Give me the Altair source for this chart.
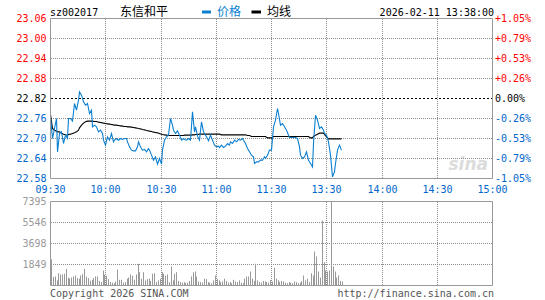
import altair as alt
import pandas as pd

stock_code = "sz002017"
stock_name = "东信和平"
timestamp = "2026-02-11 13:38:00"
legend_labels = ["价格", "均线"]
footer_left = "Copyright 2026 SINA.COM"
footer_right = "http://finance.sina.com.cn"
prev_close = 22.82
price_ticks = [22.58, 22.64, 22.70, 22.76, 22.82, 22.88, 22.94, 23.00, 23.06]
volume_ticks = [1849, 3698, 5546, 7395]
time_ticks = [0, 30, 60, 90, 120, 150, 180, 210, 240]
time_labels = ["09:30", "10:00", "10:30", "11:00", "11:30", "13:30", "14:00", "14:30", "15:00"]

prices = [
    22.765, 22.700, 22.730, 22.760, 22.660, 22.715, 22.720, 22.685, 22.710, 22.700,
    22.760, 22.760, 22.752, 22.805, 22.785, 22.815, 22.840, 22.830, 22.810, 22.800,
    22.805, 22.775, 22.785, 22.735, 22.740, 22.735, 22.720, 22.725, 22.715, 22.695,
    22.680, 22.705, 22.695, 22.715, 22.690, 22.695, 22.700, 22.695, 22.700, 22.697,
    22.700, 22.700, 22.690, 22.675, 22.665, 22.663, 22.663, 22.675, 22.690, 22.675,
    22.665, 22.667, 22.660, 22.670, 22.665, 22.650, 22.635, 22.645, 22.623, 22.640,
    22.623, 22.665, 22.695, 22.705, 22.710, 22.760, 22.740, 22.725, 22.715, 22.723,
    22.710, 22.695, 22.700, 22.697, 22.695, 22.700, 22.695, 22.780, 22.720, 22.735,
    22.707, 22.695, 22.750, 22.720, 22.710, 22.700, 22.693, 22.710, 22.695, 22.680,
    22.675, 22.677, 22.673, 22.680, 22.673, 22.677, 22.685, 22.680, 22.690, 22.685,
    22.695, 22.690, 22.697, 22.695, 22.700, 22.695, 22.685, 22.670, 22.660, 22.650,
    22.645, 22.625, 22.630, 22.630, 22.635, 22.635, 22.645, 22.640, 22.650, 22.665,
    22.665, 22.735, 22.755, 22.790, 22.775, 22.740, 22.745, 22.735, 22.725, 22.710,
    22.703, 22.703, 22.703, 22.703, 22.700, 22.675, 22.650, 22.640, 22.645, 22.660,
    22.635, 22.625, 22.615, 22.685, 22.770, 22.755, 22.730, 22.735, 22.725, 22.715,
    22.710, 22.690, 22.650, 22.585, 22.600, 22.625, 22.665, 22.680, 22.665,
]

avg_prices = [
    22.772, 22.730, 22.725, 22.722, 22.720, 22.720, 22.716, 22.713, 22.711, 22.710,
    22.712, 22.713, 22.715, 22.717, 22.720, 22.725, 22.732, 22.740, 22.746, 22.750,
    22.752, 22.752, 22.752, 22.752, 22.751, 22.751, 22.749, 22.748, 22.747, 22.746,
    22.745, 22.744, 22.743, 22.742, 22.741, 22.740, 22.740, 22.739, 22.738, 22.737,
    22.736, 22.736, 22.735, 22.735, 22.734, 22.733, 22.732, 22.731, 22.730, 22.729,
    22.727, 22.726, 22.724, 22.723, 22.722, 22.721, 22.719, 22.718, 22.717, 22.715,
    22.713, 22.712, 22.711, 22.710, 22.709, 22.709, 22.709, 22.709, 22.709, 22.709,
    22.709, 22.709, 22.709, 22.710, 22.710, 22.710, 22.710, 22.711, 22.711, 22.712,
    22.712, 22.713, 22.713, 22.713, 22.713, 22.713, 22.713, 22.713, 22.713, 22.713,
    22.713, 22.713, 22.713, 22.711, 22.711, 22.711, 22.711, 22.711, 22.711, 22.711,
    22.711, 22.711, 22.711, 22.711, 22.711, 22.711, 22.711, 22.709, 22.709, 22.706,
    22.706, 22.706, 22.706, 22.706, 22.706, 22.706, 22.706, 22.706, 22.702, 22.702,
    22.702, 22.706, 22.706, 22.706, 22.706, 22.706, 22.706, 22.706, 22.706, 22.706,
    22.706, 22.706, 22.706, 22.706, 22.706, 22.706, 22.706, 22.706, 22.706, 22.706,
    22.706, 22.702, 22.702, 22.706, 22.710, 22.713, 22.716, 22.716, 22.716, 22.712,
    22.705, 22.699, 22.699, 22.699, 22.699, 22.699, 22.699, 22.699, 22.699,
]

volumes = [
    2300, 750, 800, 450, 1080, 970, 970, 1030, 1470, 680,
    620, 700, 790, 880, 650, 600, 880, 1000, 1470, 780,
    650, 420, 500, 650, 800, 800, 400, 300, 1320, 950,
    850, 560, 300, 250, 200, 350, 1400, 500, 500, 250,
    300, 600, 700, 970, 850, 500, 970, 1910, 1170, 600,
    1170, 450, 560, 600, 400, 1030, 1080, 300, 450, 600,
    1170, 1030, 880, 970, 300, 1670, 450, 1030, 1170, 400,
    300, 250, 300, 200, 250, 400, 800, 1170, 1230, 790,
    350, 300, 250, 600, 560, 300, 250, 200, 450, 880,
    560, 450, 300, 350, 600, 400, 250, 300, 200, 500,
    350, 300, 450, 250, 200, 600, 790, 790, 1230, 600,
    400, 1910, 450, 300, 250, 400, 350, 300, 250, 500,
    350, 1560, 600, 450, 300, 400, 350, 250, 200, 300,
    250, 200, 350, 300, 200, 250, 400, 880, 450, 600,
    300, 1080, 880, 2990, 2550, 1230, 700, 5720, 2050, 1320,
    1230, 1320, 7395, 1670, 1230, 700, 880, 400, 350,
]

MONO = "DejaVu Sans Mono"
CJK = "Noto Sans CJK SC"
BLUE = "#0b7fd0"
LBLUE = "#0066cc"
RED = "#ff0000"
GRAY = "#999999"
GRID = "#8c8c8c"

n = len(prices)
df = pd.DataFrame({"t": list(range(n)), "price": prices, "avg": avg_prices, "vol": volumes})

XS = alt.Scale(domain=[0, 240], range=[50, 492], nice=False, zero=False, round=True)
PY = alt.Scale(domain=[22.58, 23.06], range=[178.5, 18.5], nice=False, zero=False)
VY = alt.Scale(domain=[0, 7395], range=[285.5, 201.5], nice=False, zero=False)

label_expr_time = "[" + ",".join("'%s'" % s for s in time_labels) + "][round(datum.value/30)]"
x_axis = alt.Axis(values=time_ticks, labelExpr=label_expr_time, orient="bottom", offset=-121.5,
                  domain=False, ticks=False, tickSize=0, grid=False, labelPadding=6,
                  labelColor=LBLUE, labelFont=MONO, labelFontSize=10, title=None,
                  labelFlush=False, labelOverlap=False, labelBound=False)


def xenc(field="t"):
    return alt.X(field + ":Q", scale=XS, axis=x_axis)


color_cond = {"condition": [
    {"test": "datum.value > %f" % (prev_close + 0.001), "value": RED},
    {"test": "datum.value < %f" % (prev_close - 0.001), "value": LBLUE}],
    "value": "#000000"}

price_axis = alt.Axis(orient="left", offset=-50, values=price_ticks, format=".2f",
                      labelColor=color_cond, domain=False, ticks=False, tickSize=0, grid=False,
                      labelPadding=4, labelFont=MONO, labelFontSize=10, title=None,
                      labelFlush=False, labelOverlap=False, labelBound=False)

pct_expr = ("(datum.value > %f ? '+' : (datum.value < %f ? '-' : '')) + "
            "format(abs(datum.value - %f) / %f * 100, '.2f') + '%%'") % (
    prev_close + 0.001, prev_close - 0.001, prev_close, prev_close)
pct_axis = alt.Axis(orient="right", offset=-52.5, values=price_ticks, labelExpr=pct_expr,
                    labelColor=color_cond, domain=False, ticks=False, tickSize=0, grid=False,
                    labelPadding=2, labelFont=MONO, labelFontSize=10, title=None,
                    labelFlush=False, labelOverlap=False, labelBound=False)

vol_axis = alt.Axis(orient="left", offset=-50, values=volume_ticks, format="d",
                    labelColor=GRAY, domain=False, ticks=False, tickSize=0, grid=False,
                    labelPadding=4, labelFont=MONO, labelFontSize=10, title=None,
                    labelFlush=False, labelOverlap=False, labelBound=False)

base = alt.Chart(df)

# ---- grid lines drawn as two-point dotted line segments (built from the tick lists)
inner_times = time_ticks[1:-1]
inner_prices = [v for v in price_ticks[1:-1] if abs(v - prev_close) > 0.001]
inner_vols = volume_ticks[:-1]

pv_rows = []  # vertical lines in the price panel
for k, tv in enumerate(inner_times):
    pv_rows.append({"gx": tv, "gy": price_ticks[-1], "gid": k, "o": 0})
    pv_rows.append({"gx": tv, "gy": price_ticks[0], "gid": k, "o": 1})
vv_rows = []  # vertical lines in the volume panel
for k, tv in enumerate(inner_times):
    vv_rows.append({"gx": tv, "gy": volume_ticks[-1], "gid": k, "o": 0})
    vv_rows.append({"gx": tv, "gy": 0, "gid": k, "o": 1})
ph_rows = []  # horizontal lines in the price panel
for k, pv in enumerate(inner_prices):
    ph_rows.append({"gx": time_ticks[0], "gy": pv, "gid": k, "o": 0})
    ph_rows.append({"gx": time_ticks[-1], "gy": pv, "gid": k, "o": 1})
vh_rows = []  # horizontal lines in the volume panel
for k, vv in enumerate(inner_vols):
    vh_rows.append({"gx": time_ticks[0], "gy": vv, "gid": k, "o": 0})
    vh_rows.append({"gx": time_ticks[-1], "gy": vv, "gid": k, "o": 1})


def grid_layer(rows, yscale, **mk):
    return alt.Chart(pd.DataFrame(rows)).mark_line(
        color=GRID, strokeDash=[1, 1], strokeWidth=1, interpolate="linear", **mk
    ).encode(
        x=xenc("gx"),
        y=alt.Y("gy:Q", scale=yscale, axis=None),
        detail="gid:N",
        order="o:Q",
    )


grid_pv = grid_layer(pv_rows, PY, xOffset=0.5, yOffset=0.5)
grid_vv = grid_layer(vv_rows, VY, xOffset=0.5, yOffset=0.5)
grid_ph = grid_layer(ph_rows, PY, xOffset=1)
grid_vh = grid_layer(vh_rows, VY, xOffset=1)

prev_df = pd.DataFrame({"p": [prev_close]})
prev_rule = alt.Chart(prev_df).mark_rule(color="#000000", strokeDash=[2, 2], strokeWidth=1).encode(
    y=alt.Y("p:Q", scale=PY, axis=None), x=alt.value(51), x2=alt.value(492))

# ---- data marks
avg_line = base.mark_line(color="#000000", strokeWidth=1.1, interpolate="linear", xOffset=0.5).encode(
    x=xenc(), y=alt.Y("avg:Q", scale=PY, axis=None))
price_line = base.mark_line(color=BLUE, strokeWidth=1.1, interpolate="linear", xOffset=0.5).encode(
    x=xenc(), y=alt.Y("price:Q", scale=PY, axis=price_axis))
pct_layer = base.mark_line(opacity=0).encode(
    x=xenc(), y=alt.Y("price:Q", scale=PY, axis=pct_axis))
vol_bars = base.transform_calculate(zero="0").mark_rule(color=GRAY, strokeWidth=1, xOffset=1.5).encode(
    x=xenc(), y=alt.Y("vol:Q", scale=VY, axis=vol_axis), y2="zero:Q")

# ---- frames
one = pd.DataFrame({"k": [0]})
frame_price = alt.Chart(one).mark_rect(fillOpacity=0, stroke=GRAY, strokeWidth=1).encode(
    x=alt.value(50.5), x2=alt.value(492.5), y=alt.value(18.5), y2=alt.value(178.5))
frame_vol = alt.Chart(one).mark_rect(fillOpacity=0, stroke=GRAY, strokeWidth=1).encode(
    x=alt.value(50.5), x2=alt.value(492.5), y=alt.value(201.5), y2=alt.value(285.5))


# ---- header / footer texts
def txt(s, x, y, font, size, color, align="left", **kw):
    return alt.Chart(pd.DataFrame({"s": [s]})).mark_text(
        font=font, fontSize=size, color=color, align=align, baseline="alphabetic", **kw
    ).encode(text="s:N", x=alt.value(x), y=alt.value(y))


code_t = txt(stock_code, 50, 16, MONO, 10, "#000000")
name_t = txt(stock_name, 120, 15.5, CJK, 12, "#000000")
leg1_box = alt.Chart(one).mark_rect(color=BLUE).encode(
    x=alt.value(202), x2=alt.value(211), y=alt.value(10.5), y2=alt.value(13.5))
leg1_t = txt(legend_labels[0], 217, 15.5, CJK, 12, BLUE)
leg2_box = alt.Chart(one).mark_rect(color="#000000").encode(
    x=alt.value(251.5), x2=alt.value(261), y=alt.value(10.5), y2=alt.value(13.5))
leg2_t = txt(legend_labels[1], 267, 15.5, CJK, 12, "#000000")
date_t = txt(timestamp, 494, 16, MONO, 10, "#000000", align="right")
foot_l = txt(footer_left, 50, 296.5, MONO, 10, "#555555")
foot_r = txt(footer_right, 494, 296.5, MONO, 10, "#555555", align="right")
logo = txt("sina", 488, 170, "DejaVu Sans", 17, "#dcdcdc", align="right",
           fontStyle="italic", fontWeight="bold")

chart = alt.layer(
    logo, grid_pv, grid_vv, grid_ph, grid_vh, prev_rule,
    vol_bars, avg_line, price_line, pct_layer, frame_price, frame_vol,
    code_t, name_t, leg1_box, leg1_t, leg2_box, leg2_t, date_t, foot_l, foot_r,
).resolve_scale(y="independent").properties(
    width=545, height=300, padding=0,
    autosize=alt.AutoSizeParams(type="none"),
    background="#ffffff",
).configure_view(stroke=None)

chart.save("out.html", embed_options={"renderer": "svg", "actions": False})
